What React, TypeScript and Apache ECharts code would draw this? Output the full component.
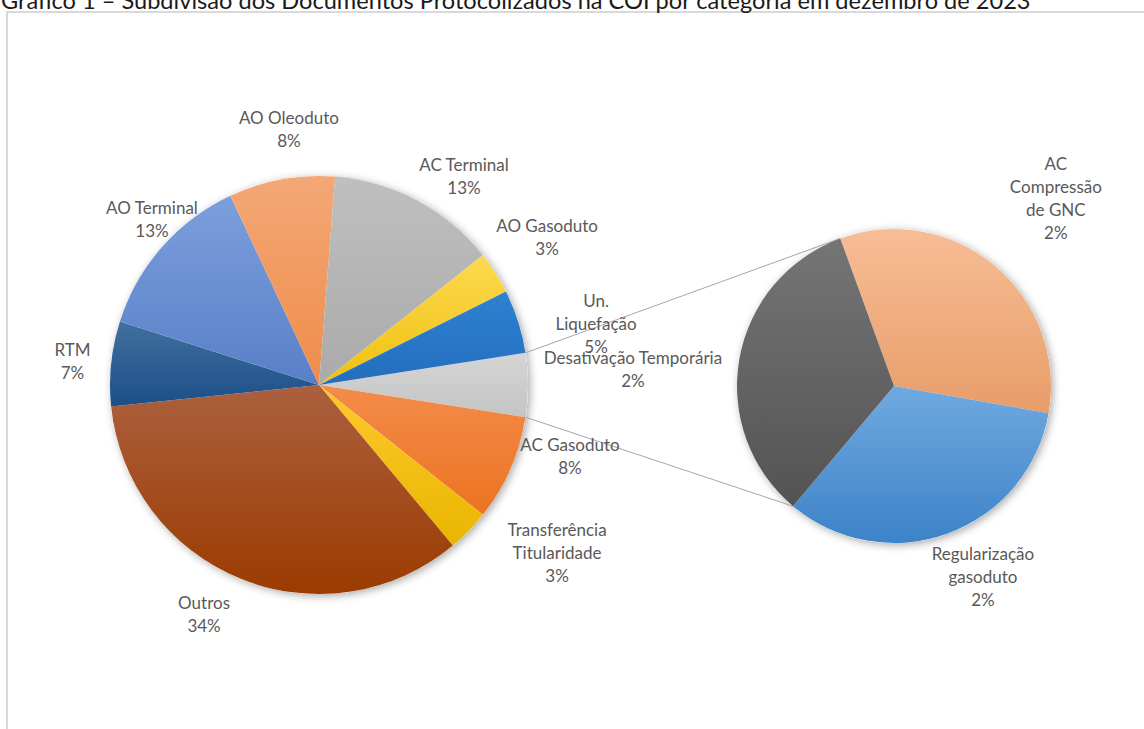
import React, { useEffect, useRef } from "react";
import * as echarts from "echarts";

const TITLE =
  "Gráfico 1 – Subdivisão dos Documentos Protocolizados na COI por categoria em dezembro de 2023";

// Main pie categories (clockwise, after the aggregated "Outro" slice)
const mainCategories = [
  "AC Gasoduto",
  "Transferência Titularidade",
  "Outros",
  "RTM",
  "AO Terminal",
  "AO Oleoduto",
  "AC Terminal",
  "AO Gasoduto",
  "Un. Liquefação",
];
const mainValues = [5, 2, 21, 4, 8, 5, 8, 2, 3];

// Secondary pie categories
const detailCategories = ["AC Compressão de GNC", "Regularização gasoduto", "Desativação Temporária"];
const detailValues = [1, 1, 1];

const AGG_NAME = "Outro";

// Styling
const COLORS: Record<string, [string, string]> = {
  Outro: ["#D5D5D5", "#C4C4C4"],
  "AC Gasoduto": ["#F38C4B", "#EC7320"],
  "Transferência Titularidade": ["#FFC82C", "#E8B600"],
  Outros: ["#AC603F", "#9B3B00"],
  RTM: ["#41709E", "#1C4E87"],
  "AO Terminal": ["#7C9FDC", "#587FC8"],
  "AO Oleoduto": ["#F4A876", "#EE8C4A"],
  "AC Terminal": ["#BFBFBF", "#AAAAAA"],
  "AO Gasoduto": ["#FDD950", "#EFC10E"],
  "Un. Liquefação": ["#3081D2", "#236EBD"],
  "AC Compressão de GNC": ["#F7BD96", "#E89D69"],
  "Regularização gasoduto": ["#70A9DF", "#3C83C9"],
  "Desativação Temporária": ["#757575", "#535353"],
};

const WRAPPED: Record<string, string> = {
  "Transferência Titularidade": "Transferência\nTitularidade",
  "Un. Liquefação": "Un.\nLiquefação",
  "AC Compressão de GNC": "AC\nCompressão\nde GNC",
  "Regularização gasoduto": "Regularização\ngasoduto",
};

// label placement: [angle clockwise from 12 o'clock (deg), distance from pie centre (px)]
const LABEL_POLAR: Record<string, [number, number]> = {
  "AO Oleoduto": [353.3, 258.2],
  "AC Terminal": [34.8, 254],
  "AO Gasoduto": [57.1, 271.6],
  "Un. Liquefação": [77.4, 283.9],
  "AC Gasoduto": [105.8, 260.8],
  "Transferência Titularidade": [125.2, 291.3],
  Outros: [206.7, 255.8],
  RTM: [275.6, 247.7],
  "AO Terminal": [314.9, 235.8],
  "Desativação Temporária": [273.7, 261.6],
  "AC Compressão de GNC": [40.7, 248.2],
  "Regularização gasoduto": [155.0, 210.3],
};

const MAIN = { cx: 319, cy: 385, r: 209 };
const DETAIL = { cx: 894, cy: 386, r: 157 };
const DETAIL_START = 110; // echarts startAngle of secondary pie

const FONT = "Lato, 'Open Sans', sans-serif";

function grad(name: string) {
  const c = COLORS[name];
  return {
    type: "linear",
    x: 0,
    y: 0,
    x2: 0,
    y2: 1,
    colorStops: [
      { offset: 0, color: c[0] },
      { offset: 1, color: c[1] },
    ],
  };
}

function pt(g: { cx: number; cy: number; r: number }, thetaDeg: number, d?: number) {
  const t = (thetaDeg * Math.PI) / 180;
  const rr = d === undefined ? g.r : d;
  return [g.cx + rr * Math.sin(t), g.cy - rr * Math.cos(t)];
}

export default function App() {
  const ref = useRef<HTMLDivElement>(null);

  useEffect(() => {
    if (!ref.current) return;
    const chart = echarts.init(ref.current, undefined, { renderer: "svg" });

    const sum = (a: number[]) => a.reduce((s, v) => s + v, 0);
    const aggValue = sum(detailValues);
    const total = sum(mainValues) + aggValue;
    const pct = (v: number) => `${Math.round((v / total) * 100)}%`;

    const aggDeg = (aggValue / total) * 360;
    const mainStart = aggDeg / 2; // echarts startAngle so the aggregate slice faces the second pie

    const mainNames = [AGG_NAME, ...mainCategories];
    const mainData = [
      {
        name: AGG_NAME,
        value: aggValue,
        label: { show: false },
        itemStyle: { color: grad(AGG_NAME) },
      },
      ...mainCategories.map((n, i) => ({
        name: n,
        value: mainValues[i],
        itemStyle: { color: grad(n) },
      })),
    ];
    const detailData = detailCategories.map((n, i) => ({
      name: n,
      value: detailValues[i],
      itemStyle: { color: grad(n) },
    }));

    // connector lines
    const aTop = 90 - aggDeg / 2;
    const aBot = 90 + aggDeg / 2;
    const dTop = 90 - DETAIL_START;
    const dSum = sum(detailValues);
    const dBot = dTop + ((dSum - detailValues[detailValues.length - 1]) / dSum) * 360;
    const p1 = pt(MAIN, aTop);
    const p2 = pt(DETAIL, dTop);
    const p3 = pt(MAIN, aBot);
    const p4 = pt(DETAIL, dBot);

    const labelCommon = {
      show: true,
      position: "outside",
      color: "#595959",
      fontFamily: FONT,
      fontSize: 17,
      lineHeight: 23,
      formatter: (p: any) => `${WRAPPED[p.name] || p.name}\n${pct(p.value)}`,
    };

    const makeLayout = (g: typeof MAIN, names: string[]) => (params: any) => {
      const name = names[params.dataIndex];
      const lp = LABEL_POLAR[name];
      if (!lp) return {};
      const [x, y] = pt(g, lp[0], lp[1]);
      return { x, y, align: "center", verticalAlign: "middle" };
    };

    chart.setOption({
      animation: false,
      backgroundColor: "#ffffff",
      graphic: [
        {
          type: "rect",
          z: 0,
          shape: { x: 7, y: 12, width: 1200, height: 800 },
          style: { fill: "#ffffff", stroke: "#D9D9D9", lineWidth: 2 },
        },
        {
          type: "text",
          z: 1,
          x: 1,
          y: -0.5,
          style: {
            text: TITLE,
            fill: "#1a1a1a",
            font: `23.6px ${FONT}`,
            verticalAlign: "middle",
            align: "left",
          },
        },
        {
          type: "circle",
          z: 1,
          shape: { cx: MAIN.cx, cy: MAIN.cy, r: MAIN.r },
          style: {
            fill: "#ffffff",
            shadowBlur: 8,
            shadowColor: "rgba(0,0,0,0.35)",
            shadowOffsetX: 2,
            shadowOffsetY: 2,
          },
        },
        {
          type: "circle",
          z: 1,
          shape: { cx: DETAIL.cx, cy: DETAIL.cy, r: DETAIL.r },
          style: {
            fill: "#ffffff",
            shadowBlur: 8,
            shadowColor: "rgba(0,0,0,0.35)",
            shadowOffsetX: 2,
            shadowOffsetY: 2,
          },
        },
        {
          type: "line",
          z: 1,
          shape: { x1: p1[0], y1: p1[1], x2: p2[0], y2: p2[1] },
          style: { stroke: "#A6A6A6", lineWidth: 1 },
        },
        {
          type: "line",
          z: 1,
          shape: { x1: p3[0], y1: p3[1], x2: p4[0], y2: p4[1] },
          style: { stroke: "#A6A6A6", lineWidth: 1 },
        },
      ],
      series: [
        {
          type: "pie",
          z: 3,
          center: [MAIN.cx, MAIN.cy],
          radius: [0, MAIN.r],
          startAngle: mainStart,
          clockwise: true,
          avoidLabelOverlap: false,
          data: mainData,
          label: labelCommon,
          labelLine: { show: false },
          itemStyle: { borderWidth: 0 },
          emphasis: { disabled: true },
          labelLayout: makeLayout(MAIN, mainNames),
        },
        {
          type: "pie",
          z: 3,
          center: [DETAIL.cx, DETAIL.cy],
          radius: [0, DETAIL.r],
          startAngle: DETAIL_START,
          clockwise: true,
          avoidLabelOverlap: false,
          data: detailData,
          label: labelCommon,
          labelLine: { show: false },
          itemStyle: { borderWidth: 0 },
          emphasis: { disabled: true },
          labelLayout: makeLayout(DETAIL, detailCategories),
        },
      ],
    });

    return () => chart.dispose();
  }, []);

  return (
    <div
      ref={ref}
      style={{ position: "absolute", left: 0, top: 0, width: 1144, height: 729 }}
    />
  );
}
